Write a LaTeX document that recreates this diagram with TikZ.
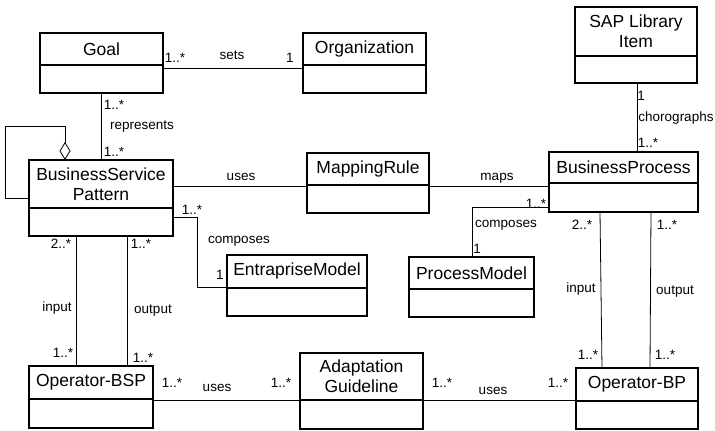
\documentclass[tikz,border=0pt]{standalone}
\usepackage{fontspec}
\setmainfont{Liberation Sans}
\usetikzlibrary{arrows.meta}
\tikzset{
  clsbox/.style={draw, line width=1.4pt, inner sep=0pt, outer sep=0pt, anchor=north west},
  clsname/.style={font=\fontsize{17.5}{20.5}\selectfont, align=center, inner sep=0pt},
  divline/.style={line width=1.4pt},
  conn/.style={line width=0.8pt},
  lbl/.style={font=\fontsize{13.5}{15}\selectfont, inner sep=0pt}
}
\newcommand{\umlcls}[8]{% name, x1, y1, w, h, ydiv, ytext, text
  \node[clsbox, minimum width=#4pt, minimum height=#5pt] (#1) at (#2,#3) {};
  \draw[divline] (#1.west |- 0,#6) -- (#1.east |- 0,#6);
  \node[clsname] (#1-t) at (#1.north |- 0,#7) {#8};
}
\begin{document}
\begin{tikzpicture}[x=1pt,y=-1pt]
\useasboundingbox (0,0) rectangle (715,431);
% classes
\umlcls{goal}{40}{33}{123}{60}{65}{49}{Goal}
\umlcls{org}{303}{33}{123}{60}{65}{49}{Organization}
\umlcls{sap}{575}{7}{122}{76}{56}{31}{SAP Library\\Item}
\umlcls{bsp}{29}{160}{144}{76}{208}{184}{BusinessService\\Pattern}
\umlcls{map}{307}{153}{122}{60}{185}{169}{MappingRule}
\umlcls{bp}{549}{152}{149}{60}{183}{167}{BusinessProcess}
\umlcls{em}{227}{255}{140}{61}{288}{271}{EntrapriseModel}
\umlcls{pm}{409}{257}{125}{60}{289}{273}{ProcessModel}
\umlcls{opbsp}{29}{366}{124}{62}{399}{382}{Operator-BSP}
\umlcls{ag}{300}{353}{123}{76}{400}{376}{Adaptation\\Guideline}
\umlcls{opbp}{576}{368}{122}{61}{401}{384}{Operator-BP}
% connectors
\draw[conn] (goal.east |- 0,68) -- (org.west |- 0,68);
\draw[conn] (goal.south -| 101,0) -- (bsp.north -| 101,0);
\draw[conn, {Diamond[open,length=18pt,width=11pt,line width=0.8pt]}-] (bsp.north -| 65,0) -- (65,126) -- (5,126) -- (5,198) -- (bsp.west |- 0,198);
\draw[conn] (bsp.east |- 0,186) -- (map.west |- 0,186);
\draw[conn] (map.east |- 0,186) -- (bp.west |- 0,186);
\draw[conn] (sap.south -| 637,0) -- (bp.north -| 637,0);
\draw[conn] (bsp.east |- 0,217) -- (197,217) -- (197,287) -- (em.west |- 0,287);
\draw[conn] (bp.west |- 0,207) -- (472,207) -- (pm.north -| 472,0);
\draw[conn] (bsp.south -| 76,0) -- (opbsp.north -| 76,0);
\draw[conn] (bsp.south -| 127,0) -- (opbsp.north -| 127,0);
\draw[conn] (bp.south -| 600,0) -- (opbp.north -| 602,0);
\draw[conn] (bp.south -| 651,0) -- (opbp.north -| 650,0);
\draw[conn] (opbsp.east |- 0,400) -- (ag.west |- 0,400);
\draw[conn] (ag.east |- 0,400) -- (opbp.west |- 0,400);
% labels
\node[lbl] (l1) at (175,58) {1..*};
\node[lbl] (l2) at (232,55) {sets};
\node[lbl] (l3) at (290,58) {1};
\node[lbl] (l4) at (114,105) {1..*};
\node[lbl] (l5) at (142,127) {represents};
\node[lbl] (l6) at (114,152) {1..*};
\node[lbl] (l7) at (241,177) {uses};
\node[lbl] (l8) at (497,178) {maps};
\node[lbl] (l9) at (641,96) {1};
\node[lbl] (l10) at (676,118) {chorographs};
\node[lbl] (l11) at (648,143) {1..*};
\node[lbl] (l12) at (192,210) {1..*};
\node[lbl] (l13) at (239,241) {composes};
\node[lbl] (l14) at (220,275) {1};
\node[lbl] (l15) at (536,204) {1..*};
\node[lbl] (l16) at (506,225) {composes};
\node[lbl] (l17) at (477,249) {1};
\node[lbl] (l18) at (582,225) {2..*};
\node[lbl] (l19) at (667,225) {1..*};
\node[lbl] (l20) at (581,289) {input};
\node[lbl] (l21) at (675,292) {output};
\node[lbl] (l22) at (588,355) {1..*};
\node[lbl] (l23) at (665,355) {1..*};
\node[lbl] (l24) at (61,244) {2..*};
\node[lbl] (l25) at (141,244) {1..*};
\node[lbl] (l26) at (57,308) {input};
\node[lbl] (l27) at (153,311) {output};
\node[lbl] (l28) at (63,353) {1..*};
\node[lbl] (l29) at (143,358) {1..*};
\node[lbl] (l30) at (172,383) {1..*};
\node[lbl] (l31) at (217,388) {uses};
\node[lbl] (l32) at (281,383) {1..*};
\node[lbl] (l33) at (442,383) {1..*};
\node[lbl] (l34) at (493,391) {uses};
\node[lbl] (l35) at (558,383) {1..*};
\end{tikzpicture}
\end{document}
